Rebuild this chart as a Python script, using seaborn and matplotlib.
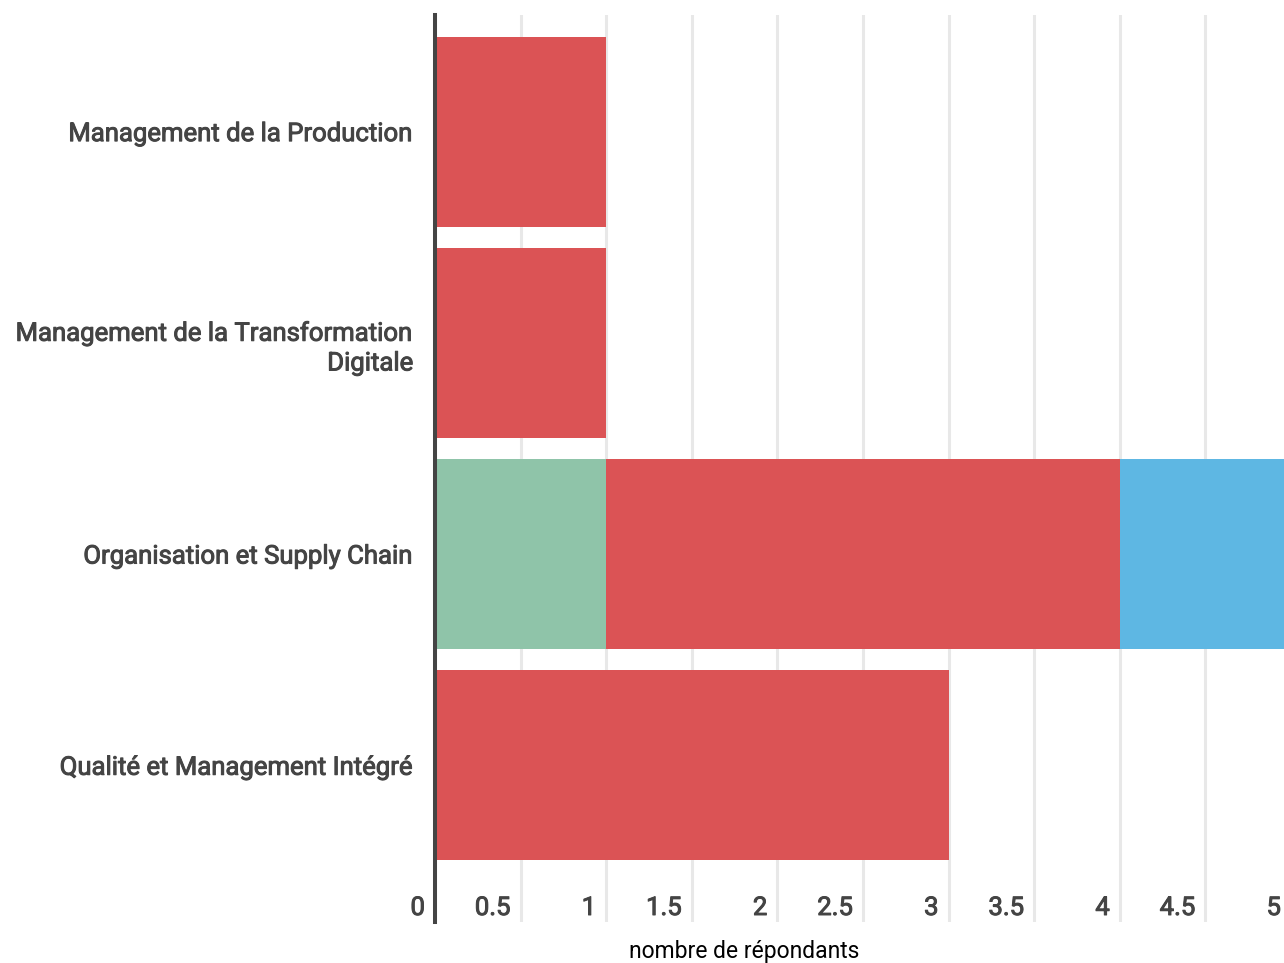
import matplotlib
matplotlib.use("Agg")
import matplotlib.pyplot as plt
import matplotlib.transforms as mtransforms
import matplotlib.patheffects as pe
import seaborn as sns
import pandas as pd
import numpy as np

categories = [
    "Management de la Production",
    "Management de la Transformation\nDigitale",
    "Organisation et Supply Chain",
    "Qualité et Management Intégré",
]
green_vals = [0, 0, 1, 0]
red_vals = [1, 1, 3, 3]
blue_vals = [0, 0, 1, 0]
colors = {"green": "#8FC4A9", "red": "#DB5355", "blue": "#5EB7E3"}
tick_vals = [0, 0.5, 1, 1.5, 2, 2.5, 3, 3.5, 4, 4.5, 5]
tick_labels = ["0", "0.5", "1", "1.5", "2", "2.5", "3", "3.5", "4", "4.5", "5"]
x_label = "nombre de répondants"

sns.set_theme(style="white")
plt.rcParams["font.family"] = ["Roboto", "DejaVu Sans"]

fig = plt.figure(figsize=(12.84, 9.63), dpi=100)
ax = fig.add_axes([435 / 1284, 1 - 922 / 963, (1291 - 435) / 1284, (922 - 15) / 963])

g = np.array(green_vals, dtype=float)
r = np.array(red_vals, dtype=float)
b = np.array(blue_vals, dtype=float)
df = pd.DataFrame({
    "cat": categories,
    "c3": g + r + b,
    "c2": g + r,
    "c1": g,
})

sns.barplot(data=df, y="cat", x="c3", color=colors["blue"], orient="h",
            width=0.9, saturation=1, ax=ax, zorder=2)
sns.barplot(data=df, y="cat", x="c2", color=colors["red"], orient="h",
            width=0.9, saturation=1, ax=ax, zorder=3)
sns.barplot(data=df, y="cat", x="c1", color=colors["green"], orient="h",
            width=0.9, saturation=1, ax=ax, zorder=4)
for p in ax.patches:
    p.set_linewidth(0)

ax.set_xlim(0, 5)
ax.set_ylim(3.742, -0.552)

for s in ["top", "right", "bottom"]:
    ax.spines[s].set_visible(False)
ax.spines["left"].set_color("#444444")
ax.spines["left"].set_linewidth(2.9)
ax.spines["left"].set_zorder(6)

ax.grid(axis="x", color="#e8e8e8", linewidth=2.2)
ax.grid(axis="y", visible=False)
ax.set_axisbelow(True)

stroke = [pe.withStroke(linewidth=0.7, foreground="#444444")]

ax.set_ylabel("")
ax.tick_params(axis="y", length=0, pad=15.5, labelsize=18.5, labelcolor="#444444")
for lbl in ax.get_yticklabels():
    lbl.set_ha("right")
    lbl.set_linespacing(1.3)
    lbl.set_path_effects(stroke)

ax.set_xticks(tick_vals, tick_labels)
ax.tick_params(axis="x", length=0, pad=0, labelsize=18.5, labelcolor="#444444")
offset = mtransforms.ScaledTranslation(-10 / 100, 7 / 100, fig.dpi_scale_trans)
for lbl in ax.get_xticklabels():
    lbl.set_ha("right")
    lbl.set_va("baseline")
    lbl.set_transform(lbl.get_transform() + offset)
    lbl.set_path_effects(stroke)

ax.set_xlabel(x_label, fontsize=16.5, color="black")
ax.xaxis.set_label_coords((744 - 435) / (1291 - 435), -0.033)
ax.xaxis.label.set_va("center")

fig.savefig("out.png", dpi=100)
